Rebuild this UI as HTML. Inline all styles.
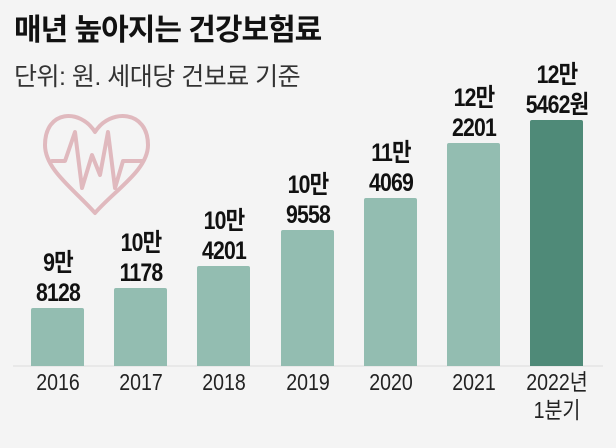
<!DOCTYPE html>
<html><head><meta charset="utf-8"><style>
body{margin:0;width:616px;height:448px;background:#f4f4f4;overflow:hidden;position:relative;font-family:"Liberation Sans","Noto Sans CJK KR",sans-serif;color:#111}
.t{position:absolute;left:14px;top:5px;font-size:30px;font-weight:bold;letter-spacing:-1px}
.s{position:absolute;left:14px;top:57px;font-size:25px;color:#333;letter-spacing:-0.5px}
.bar{position:absolute;width:53px;background:#93bdb1;border-radius:2px 2px 0 0}
.lab{position:absolute;width:90px;text-align:center;font-size:25px;line-height:30px;letter-spacing:-1px;transform:scaleX(0.85);font-weight:bold}
.x{position:absolute;width:90px;text-align:center;font-size:23px;line-height:28px;top:368px;color:#222;transform:scaleX(0.85)}
</style></head><body>
<div class="t">매년 높아지는 건강보험료</div>
<div class="s">단위: 원. 세대당 건보료 기준</div>
<svg style="position:absolute;left:0;top:0" width="616" height="448">
<path d="M95 132 C80 108 45 110 45 145 C45 170 75 190 95 213 C115 190 148 170 148 145 C148 110 110 108 95 132 Z" fill="none" stroke="#e0b9be" stroke-width="4" stroke-linejoin="round"/>
<polyline points="52,161 65,161 75,132 82,188 92,155 100,175 108,132 115,188 123,161 142,161" fill="none" stroke="#e0b9be" stroke-width="4" stroke-linejoin="round" stroke-linecap="round"/>
<line x1="13" y1="366" x2="603" y2="366" stroke="#ddd" stroke-width="1"/>
</svg>
<div class="bar" style="left:31px;top:308px;height:58px"></div>
<div class="bar" style="left:114px;top:288px;height:78px"></div>
<div class="bar" style="left:197px;top:266px;height:100px"></div>
<div class="bar" style="left:281px;top:230px;height:136px"></div>
<div class="bar" style="left:364px;top:198px;height:168px"></div>
<div class="bar" style="left:447px;top:143px;height:223px"></div>
<div class="bar" style="left:530px;top:120px;height:246px;background:#4f8a78"></div>
<div class="lab" style="left:13px;top:248px">9만<br>8128</div>
<div class="lab" style="left:96px;top:228px">10만<br>1178</div>
<div class="lab" style="left:179px;top:206px">10만<br>4201</div>
<div class="lab" style="left:263px;top:170px">10만<br>9558</div>
<div class="lab" style="left:346px;top:138px">11만<br>4069</div>
<div class="lab" style="left:429px;top:83px">12만<br>2201</div>
<div class="lab" style="left:512px;top:60px">12만<br>5462원</div>
<div class="x" style="left:13px">2016</div>
<div class="x" style="left:96px">2017</div>
<div class="x" style="left:179px">2018</div>
<div class="x" style="left:263px">2019</div>
<div class="x" style="left:346px">2020</div>
<div class="x" style="left:429px">2021</div>
<div class="x" style="left:512px">2022년<br>1분기</div>
</body></html>
